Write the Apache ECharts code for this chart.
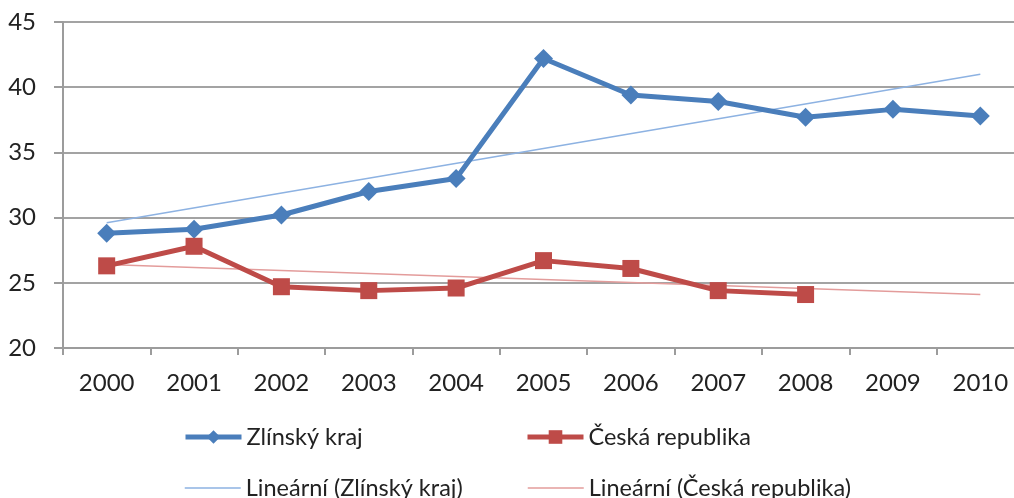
<!DOCTYPE html>
<html><head><meta charset="utf-8">
<script src="https://cdn.jsdelivr.net/npm/echarts@6/dist/echarts.min.js"></script>
<style>html,body{margin:0;padding:0;background:#fff}#c{width:1014px;height:498px}</style>
</head><body><div id="c"></div>
<script>
var years = ['2000','2001','2002','2003','2004','2005','2006','2007','2008','2009','2010'];
var zlin = [28.8, 29.1, 30.2, 32.0, 33.0, 42.2, 39.4, 38.9, 37.7, 38.3, 37.8];
var cr = [26.3, 27.8, 24.7, 24.4, 24.6, 26.7, 26.1, 24.4, 24.1];
var zlinTrend = [['2000', 29.6], ['2010', 41.0]];
var crTrend = [['2000', 26.4], ['2010', 24.1]];
var names = ['Zlínský kraj', 'Česká republika', 'Lineární (Zlínský kraj)', 'Lineární (Česká republika)'];

var font = 'Lato';
var txt = { fontFamily: font, fontSize: 23.5, color: '#222', lineHeight: 24 };
function leg(name, left, top, lw, hideSym) {
  var d = { name: name };
  if (hideSym) d.itemStyle = { opacity: 0 };
  return {
    left: left, top: top, itemWidth: 56, itemHeight: 17, padding: 0,
    data: [d], lineStyle: { width: lw }, textStyle: txt
  };
}
var chart = echarts.init(document.getElementById('c'));
chart.setOption({
  animation: false,
  grid: { left: 63, width: 961, top: 22, bottom: 150, outerBoundsMode: 'none', containLabel: false },
  legend: [
    leg(names[0], 183, 425, 5, false),
    leg(names[1], 525, 425, 5, false),
    leg(names[2], 184, 476, 1.5, true),
    leg(names[3], 527, 476, 1.5, true)
  ],
  xAxis: {
    type: 'category', data: years, boundaryGap: true,
    axisLine: { lineStyle: { color: '#9c9c9c', width: 2 } },
    axisTick: { show: true, length: 7, lineStyle: { color: '#9c9c9c', width: 2 } },
    axisLabel: { fontFamily: font, fontSize: 24, color: '#222', margin: 23 }
  },
  yAxis: {
    type: 'value', min: 20, max: 45, interval: 5,
    axisLine: { show: true, lineStyle: { color: '#9c9c9c', width: 2 } },
    axisTick: { show: true, length: 9, lineStyle: { color: '#9c9c9c', width: 2 } },
    splitLine: { lineStyle: { color: '#a3a3a3', width: 2 } },
    axisLabel: { fontFamily: font, fontSize: 24, color: '#222', margin: 27 }
  },
  series: [
    { name: names[0], type: 'line', data: zlin, color: '#4A7EBB',
      lineStyle: { width: 5 }, symbol: 'diamond', symbolSize: 19, z: 3 },
    { name: names[1], type: 'line', data: cr, color: '#BE4B48',
      lineStyle: { width: 5 }, symbol: 'rect', symbolSize: 17, z: 3 },
    { name: names[2], type: 'line', data: zlinTrend, color: '#8DB2E2',
      lineStyle: { width: 1.5 }, showSymbol: false, symbol: 'none', z: 2 },
    { name: names[3], type: 'line', data: crTrend, color: '#E39C9B',
      lineStyle: { width: 1.5 }, showSymbol: false, symbol: 'none', z: 2 }
  ]
});
</script></body></html>
